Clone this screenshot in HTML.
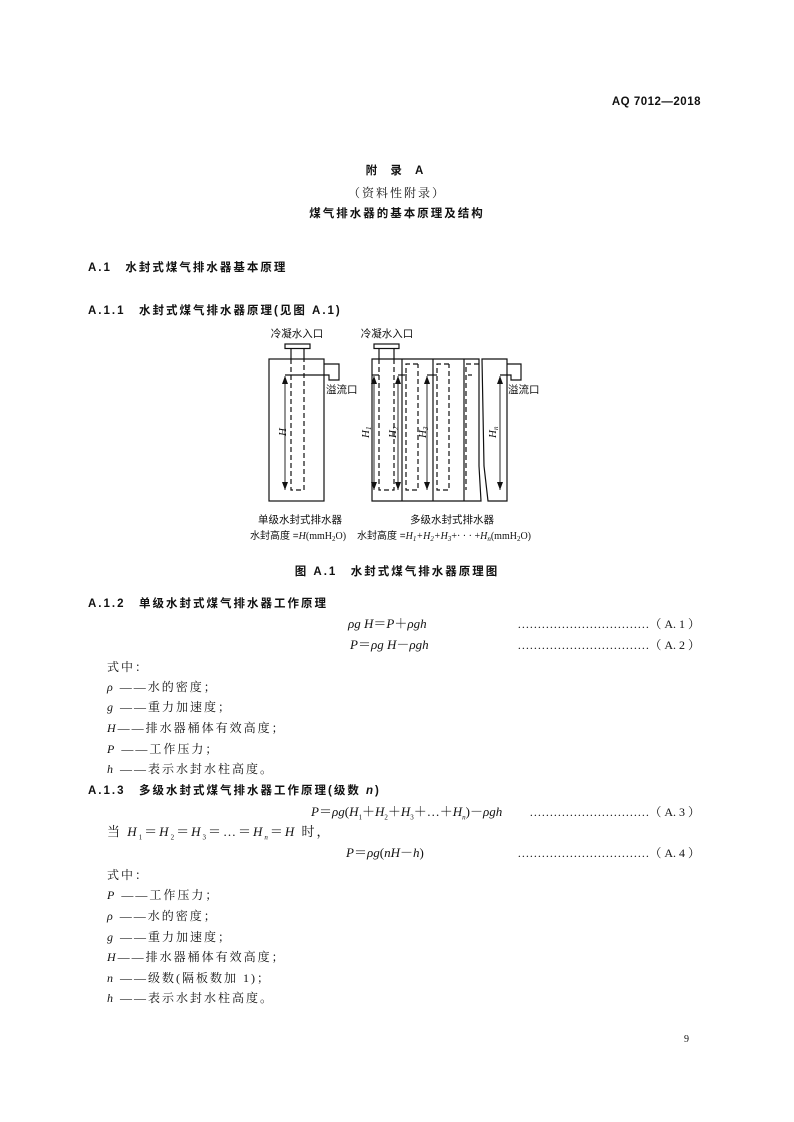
<!DOCTYPE html>
<html><head><meta charset="utf-8">
<style>
body{margin:0;background:#fff;}
#p{position:relative;width:794px;height:1122px;overflow:hidden;font-family:"Liberation Serif","Noto Serif CJK SC",serif;color:#111;font-size:12px;}
.t{position:absolute;white-space:nowrap;line-height:14px;height:14px;}
.b{font-family:"Liberation Sans","Noto Sans CJK SC",sans-serif;font-weight:bold;letter-spacing:2px;font-size:11.5px;}
.s{font-family:"Liberation Serif","Noto Serif CJK SC",serif;letter-spacing:2px;}
.e{font-size:13px;}
i{font-style:italic;}
.r{position:absolute;right:94px;white-space:nowrap;line-height:14px;font-size:12px;}
sub{font-size:7px;}
</style></head><body><div id="p">
<div class="t b" style="right:93px;top:95px;letter-spacing:0.5px;">AQ 7012—2018</div>
<div class="t b" style="left:0;width:794px;text-align:center;top:164px;letter-spacing:5px;">附 录 A</div>
<div class="t s" style="left:0;width:794px;text-align:center;top:186px;">（资料性附录）</div>
<div class="t b" style="left:0;width:794px;text-align:center;top:207px;">煤气排水器的基本原理及结构</div>
<div class="t b" style="left:88px;top:261px;">A.1　水封式煤气排水器基本原理</div>
<div class="t b" style="left:88px;top:304px;">A.1.1　水封式煤气排水器原理(见图 A.1)</div>

<svg style="position:absolute;left:0;top:0" width="794" height="600">
<defs><marker id="a" markerWidth="8" markerHeight="6" refX="8" refY="3" orient="auto-start-reverse" markerUnits="userSpaceOnUse"><path d="M0,0 L8,3 L0,6 Z" fill="#111"/></marker></defs>
<g stroke="#111" stroke-width="1.2" fill="none">
<rect x="269" y="359" width="55" height="142"/>
<rect x="285" y="344" width="25" height="4.5"/>
<line x1="291" y1="348" x2="291" y2="359"/><line x1="304" y1="348" x2="304" y2="359"/>
<path d="M324,364 H339 V380 H329 V375 H285"/>
<path d="M291,359 V490 H304 V359" stroke-dasharray="5,3"/>
<line x1="285" y1="376" x2="285" y2="490" marker-start="url(#a)" marker-end="url(#a)" stroke-width="0.9"/>
<path d="M372,359 H479 V466 L481,501 H372 Z"/>
<line x1="402" y1="359" x2="402" y2="501"/>
<line x1="433" y1="359" x2="433" y2="501"/>
<line x1="464" y1="359" x2="464" y2="501"/>
<path d="M482,359 H507 V501 H488 L484,466 Z"/>
<rect x="374" y="344" width="25" height="4.5"/>
<line x1="379" y1="348" x2="379" y2="359"/><line x1="394" y1="348" x2="394" y2="359"/>
<g stroke-dasharray="5,3">
<path d="M379,359 V490 H394 V359"/>
<path d="M418,364 H406 V490 H418 V364"/>
<path d="M449,364 H437 V490 H449 V364"/>
<path d="M479,364 H466 V490"/>
</g>
<line x1="372" y1="375" x2="379" y2="375"/>
<line x1="398" y1="375" x2="407" y2="375"/>
<line x1="427" y1="375" x2="437" y2="375"/>
<line x1="468" y1="375" x2="472" y2="375"/>
<path d="M507,364 H521 V380 H511 V375 H500"/>
<g stroke-width="0.9">
<line x1="374" y1="376" x2="374" y2="490" marker-start="url(#a)" marker-end="url(#a)"/>
<line x1="398" y1="376" x2="398" y2="490" marker-start="url(#a)" marker-end="url(#a)"/>
<line x1="427" y1="376" x2="427" y2="490" marker-start="url(#a)" marker-end="url(#a)"/>
<line x1="500" y1="376" x2="500" y2="490" marker-start="url(#a)" marker-end="url(#a)"/>
</g>
</g>
<g font-family="Liberation Serif,serif" font-style="italic" font-size="11" fill="#111">
<text transform="translate(286,436) rotate(-90)">H</text>
<text transform="translate(369,438) rotate(-90)">H<tspan font-size="7" dy="2">1</tspan></text>
<text transform="translate(396,438) rotate(-90)">H<tspan font-size="7" dy="2">2</tspan></text>
<text transform="translate(426,438) rotate(-90)">H<tspan font-size="7" dy="2">3</tspan></text>
<text transform="translate(496,438) rotate(-90)">H<tspan font-size="7" dy="2">n</tspan></text>
</g>
<g font-family="Liberation Sans,Noto Sans CJK SC,sans-serif" font-size="10.5" fill="#111">
<text x="297" y="337" text-anchor="middle">冷凝水入口</text>
<text x="387" y="337" text-anchor="middle">冷凝水入口</text>
<text x="326" y="393">溢流口</text>
<text x="508" y="393">溢流口</text>
<text x="300" y="523" text-anchor="middle">单级水封式排水器</text>
<text x="452" y="523" text-anchor="middle">多级水封式排水器</text>
<text x="250" y="539" font-size="10">水封高度 =<tspan font-family="Liberation Serif,serif" font-style="italic">H</tspan><tspan font-family="Liberation Serif,serif">(mmH<tspan font-size="7" dy="2">2</tspan><tspan dy="-2">O)</tspan></tspan></text>
<text x="357" y="539" font-size="10">水封高度 =<tspan font-family="Liberation Serif,serif" font-style="italic">H<tspan font-size="7" dy="2">1</tspan><tspan dy="-2">+H</tspan><tspan font-size="7" dy="2">2</tspan><tspan dy="-2">+H</tspan><tspan font-size="7" dy="2">3</tspan><tspan dy="-2" font-style="normal">+· · · +</tspan><tspan>H</tspan><tspan font-size="7" dy="2">n</tspan></tspan><tspan dy="-2" font-family="Liberation Serif,serif">(mmH</tspan><tspan font-size="7" dy="2" font-family="Liberation Serif,serif">2</tspan><tspan dy="-2" font-family="Liberation Serif,serif">O)</tspan></text>
</g>
</svg>

<div class="t b" style="left:0;width:794px;text-align:center;top:565px;">图 A.1　水封式煤气排水器原理图</div>
<div class="t b" style="left:88px;top:597px;">A.1.2　单级水封式煤气排水器工作原理</div>
<div class="t e" style="left:348px;top:617px;"><i>ρg</i> <i>H</i>＝<i>P</i>＋<i>ρgh</i></div>
<div class="r" style="top:617px;">……………………………（ A. 1 ）</div>
<div class="t e" style="left:350px;top:638px;"><i>P</i>＝<i>ρg</i> <i>H</i>－<i>ρgh</i></div>
<div class="r" style="top:638px;">……………………………（ A. 2 ）</div>
<div class="t s" style="left:107px;top:660px;">式中：</div>
<div class="t s" style="left:107px;top:680px;"><i>ρ</i> ——水的密度；</div>
<div class="t s" style="left:107px;top:700px;"><i>g</i> ——重力加速度；</div>
<div class="t s" style="left:107px;top:721px;"><i>H</i>——排水器桶体有效高度；</div>
<div class="t s" style="left:107px;top:742px;"><i>P</i> ——工作压力；</div>
<div class="t s" style="left:107px;top:762px;"><i>h</i> ——表示水封水柱高度。</div>
<div class="t b" style="left:88px;top:784px;">A.1.3　多级水封式煤气排水器工作原理(级数 <i>n</i>)</div>
<div class="t e" style="left:311px;top:805px;"><i>P</i>＝<i>ρg</i>(<i>H</i><sub>1</sub>＋<i>H</i><sub>2</sub>＋<i>H</i><sub>3</sub>＋…＋<i>H</i><sub><i>n</i></sub>)－<i>ρgh</i></div>
<div class="r" style="top:805px;">…………………………（ A. 3 ）</div>
<div class="t s e" style="left:107px;top:825px;">当 <i>H</i><sub>1</sub>＝<i>H</i><sub>2</sub>＝<i>H</i><sub>3</sub>＝…＝<i>H</i><sub><i>n</i></sub>＝<i>H</i> 时，</div>
<div class="t e" style="left:346px;top:846px;"><i>P</i>＝<i>ρg</i>(<i>nH</i>－<i>h</i>)</div>
<div class="r" style="top:846px;">……………………………（ A. 4 ）</div>
<div class="t s" style="left:107px;top:868px;">式中：</div>
<div class="t s" style="left:107px;top:888px;"><i>P</i> ——工作压力；</div>
<div class="t s" style="left:107px;top:909px;"><i>ρ</i> ——水的密度；</div>
<div class="t s" style="left:107px;top:930px;"><i>g</i> ——重力加速度；</div>
<div class="t s" style="left:107px;top:950px;"><i>H</i>——排水器桶体有效高度；</div>
<div class="t s" style="left:107px;top:971px;"><i>n</i> ——级数(隔板数加 1)；</div>
<div class="t s" style="left:107px;top:991px;"><i>h</i> ——表示水封水柱高度。</div>
<div class="t" style="left:684px;top:1033px;font-size:10px;">9</div>
</div></body></html>
